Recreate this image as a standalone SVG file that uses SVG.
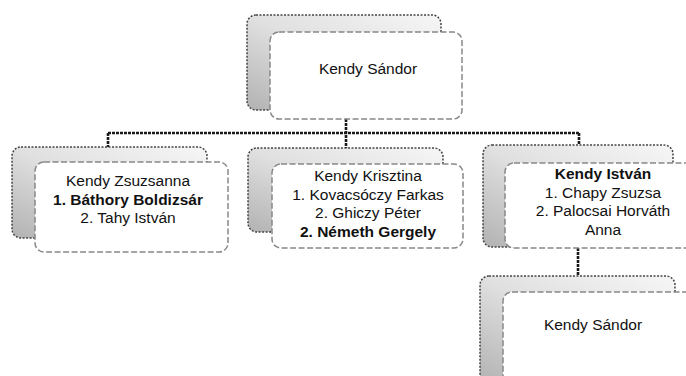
<svg xmlns="http://www.w3.org/2000/svg" width="686" height="376" viewBox="0 0 686 376">
<defs>
<linearGradient id="bk" x1="1" y1="0" x2="0" y2="1">
<stop offset="0" stop-color="#f6f6f6"/>
<stop offset="0.5" stop-color="#e0e0e0"/>
<stop offset="1" stop-color="#b2b2b2"/>
</linearGradient>
<style>
.back{fill:url(#bk);stroke:#444;stroke-width:1.5;stroke-dasharray:2 1.5}
.front{fill:#fff;stroke:#888;stroke-width:1.5;stroke-dasharray:6 2.5}
.conn{fill:none;stroke:#1a1a1a;stroke-width:2.6;stroke-dasharray:3 1}
text{font-family:"Liberation Sans",Arial,sans-serif;font-size:15.5px;fill:#111;text-anchor:middle}
.b{font-weight:bold}
</style>
</defs>
<rect width="686" height="376" fill="#fff"/>
<g id="connectors">
<path class="conn" d="M346 119 V148"/>
<path class="conn" d="M108 133 H580"/>
<path class="conn" d="M108 133 V148"/>
<path class="conn" d="M579 133 V146"/>
<path class="conn" d="M578 248 V276"/>
</g>
<g id="n-top">
<rect class="back" x="247" y="15" width="194" height="95" rx="9"/>
<rect class="front" x="270" y="32" width="192" height="87" rx="9"/>
<text x="368" y="74">Kendy Sándor</text>
</g>
<g id="n-zsuzsanna">
<rect class="back" x="12" y="147" width="195" height="91" rx="9"/>
<rect class="front" x="35" y="162" width="193" height="90" rx="9"/>
<text x="128" y="186">Kendy Zsuzsanna</text>
<text class="b" x="128" y="204.5">1. Báthory Boldizsár</text>
<text x="128" y="223">2. Tahy István</text>
</g>
<g id="n-krisztina">
<rect class="back" x="248" y="148" width="195" height="84" rx="9"/>
<rect class="front" x="272" y="164" width="191" height="84" rx="9"/>
<text x="368" y="181">Kendy Krisztina</text>
<text x="368" y="199.5">1. Kovacsóczy Farkas</text>
<text x="368" y="218">2. Ghiczy Péter</text>
<text class="b" x="368" y="236.5">2. Németh Gergely</text>
</g>
<g id="n-istvan">
<rect class="back" x="483" y="145" width="190" height="102" rx="9"/>
<rect class="front" x="505" y="163" width="190" height="85" rx="9"/>
<text class="b" x="603" y="179">Kendy István</text>
<text x="603" y="197.5">1. Chapy Zsuzsa</text>
<text x="603" y="216">2. Palocsai Horváth</text>
<text x="603" y="234.5">Anna</text>
</g>
<g id="n-sandor2">
<rect class="back" x="480" y="276" width="195" height="108" rx="9"/>
<rect class="front" x="503" y="292" width="192" height="92" rx="9"/>
<text x="593" y="330">Kendy Sándor</text>
</g>
</svg>
